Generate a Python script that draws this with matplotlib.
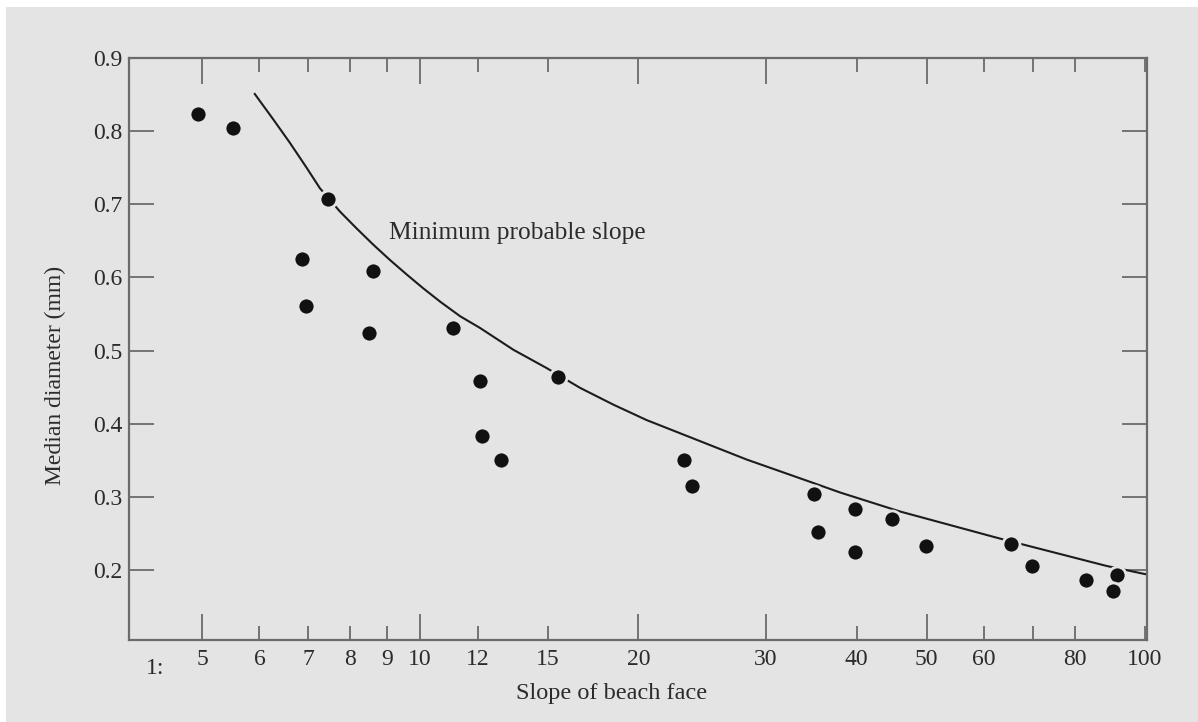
import matplotlib
matplotlib.use("Agg")
import matplotlib.pyplot as plt
from matplotlib.patches import Rectangle
from matplotlib.ticker import FixedLocator, FixedFormatter

# ---- data ----
slope = [4.93, 5.51, 7.47, 6.86, 6.95, 8.60, 8.51, 11.11, 12.09, 12.16, 12.92, 15.48,
         23.12, 23.74, 34.98, 35.43, 39.81, 39.81, 44.73, 49.83, 65.28, 69.80, 82.86, 91.44, 90.46]
diameter = [0.823, 0.804, 0.707, 0.625, 0.561, 0.609, 0.524, 0.531, 0.458, 0.383, 0.350, 0.464,
            0.350, 0.315, 0.304, 0.252, 0.283, 0.225, 0.270, 0.233, 0.235, 0.206, 0.187, 0.193, 0.171]

curve_slope = [5.90, 6.27, 6.61, 6.97, 7.27, 7.75, 8.17, 8.61, 9.08, 9.58, 10.10, 10.65,
               11.35, 12.09, 13.45, 14.95, 16.62, 18.48, 20.53, 22.83, 25.38, 28.22,
               31.37, 34.87, 37.96, 45.93, 63.08, 88.58, 100.5]
curve_diam = [0.852, 0.816, 0.784, 0.750, 0.722, 0.690, 0.667, 0.645, 0.624, 0.604, 0.585, 0.567,
              0.547, 0.531, 0.501, 0.476, 0.449, 0.426, 0.405, 0.387, 0.369, 0.351,
              0.335, 0.319, 0.306, 0.280, 0.243, 0.2055, 0.194]

major_ticks = [5, 10, 20, 30, 50]
major_labels = ["5", "10", "20", "30", "50"]
minor_ticks = [6, 7, 8, 9, 12, 15, 40, 60, 70, 80, 100]
minor_labels = ["6", "7", "8", "9", "12", "15", "40", "60", "", "80", "100"]
y_ticks = [0.2, 0.3, 0.4, 0.5, 0.6, 0.7, 0.8, 0.9]
y_labels = ["0.2", "0.3", "0.4", "0.5", "0.6", "0.7", "0.8", "0.9"]

curve_label = "Minimum probable slope"
x_label = "Slope of beach face"
y_label = "Median diameter (mm)"

# ---- style ----
BG = "#e4e4e4"
AXC = "#6b6b6b"
TXT = "#2b2b2b"
FONT = ["Liberation Serif", "DejaVu Serif"]
plt.rcParams["font.family"] = FONT

W, H = 1198, 722
fig = plt.figure(figsize=(W / 100, H / 100), dpi=100, facecolor=BG)
fig.patches.append(Rectangle((0, 1 - 7 / H), 1, 7 / H, transform=fig.transFigure,
                             facecolor="white", edgecolor="none", zorder=-5))
fig.patches.append(Rectangle((0, 0), 6 / W, 1, transform=fig.transFigure,
                             facecolor="white", edgecolor="none", zorder=-5))

left, right, top, bottom = 129.3, 1146.5, 58.0, 639.5
ax = fig.add_axes([left / W, 1 - bottom / H, (right - left) / W, (bottom - top) / H])
ax.set_facecolor(BG)

ax.set_xscale("log")
ax.set_xlim(3.968, 100.5)
ax.set_ylim(0.105, 0.9)

ax.plot(curve_slope, curve_diam, color="#1c1c1c", lw=1.5, zorder=2,
        solid_capstyle="butt", solid_joinstyle="round")
ax.scatter(slope, diameter, s=150, color="#111111", edgecolors=BG, linewidths=2.0,
           zorder=3)

ax.text(9.05, 0.661, curve_label, fontsize=18.3, color=TXT, ha="left", va="center")

for s in ax.spines.values():
    s.set_color(AXC)
    s.set_linewidth(1.6)

ax.xaxis.set_major_locator(FixedLocator(major_ticks))
ax.xaxis.set_major_formatter(FixedFormatter(major_labels))
ax.xaxis.set_minor_locator(FixedLocator(minor_ticks))
ax.xaxis.set_minor_formatter(FixedFormatter(minor_labels))
ax.set_yticks(y_ticks)
ax.set_yticklabels(y_labels)

ax.tick_params(axis="x", which="major", direction="in", length=19, width=1.3,
               color=AXC, top=True, labelsize=17, labelcolor=TXT, pad=7)
ax.tick_params(axis="x", which="minor", direction="in", length=10, width=1.3,
               color=AXC, top=True, labelsize=17, labelcolor=TXT, pad=7)
ax.tick_params(axis="y", which="major", direction="in", length=18, width=1.3,
               color=AXC, right=True, labelsize=17, labelcolor=TXT, pad=5)
ax.tick_params(axis="y", which="minor", left=False, right=False)

ax.text(0.0253, -0.032, "1:", transform=ax.transAxes, fontsize=17, color=TXT,
        ha="center", va="top")

fig.text(611.5 / W, 1 - 693 / H, x_label, fontsize=17.5, color=TXT, ha="center", va="center")
fig.text(55 / W, 1 - 375 / H, y_label, fontsize=17, color=TXT, ha="center", va="center",
         rotation=90)

fig.savefig("out.png", dpi=100, facecolor=BG)
